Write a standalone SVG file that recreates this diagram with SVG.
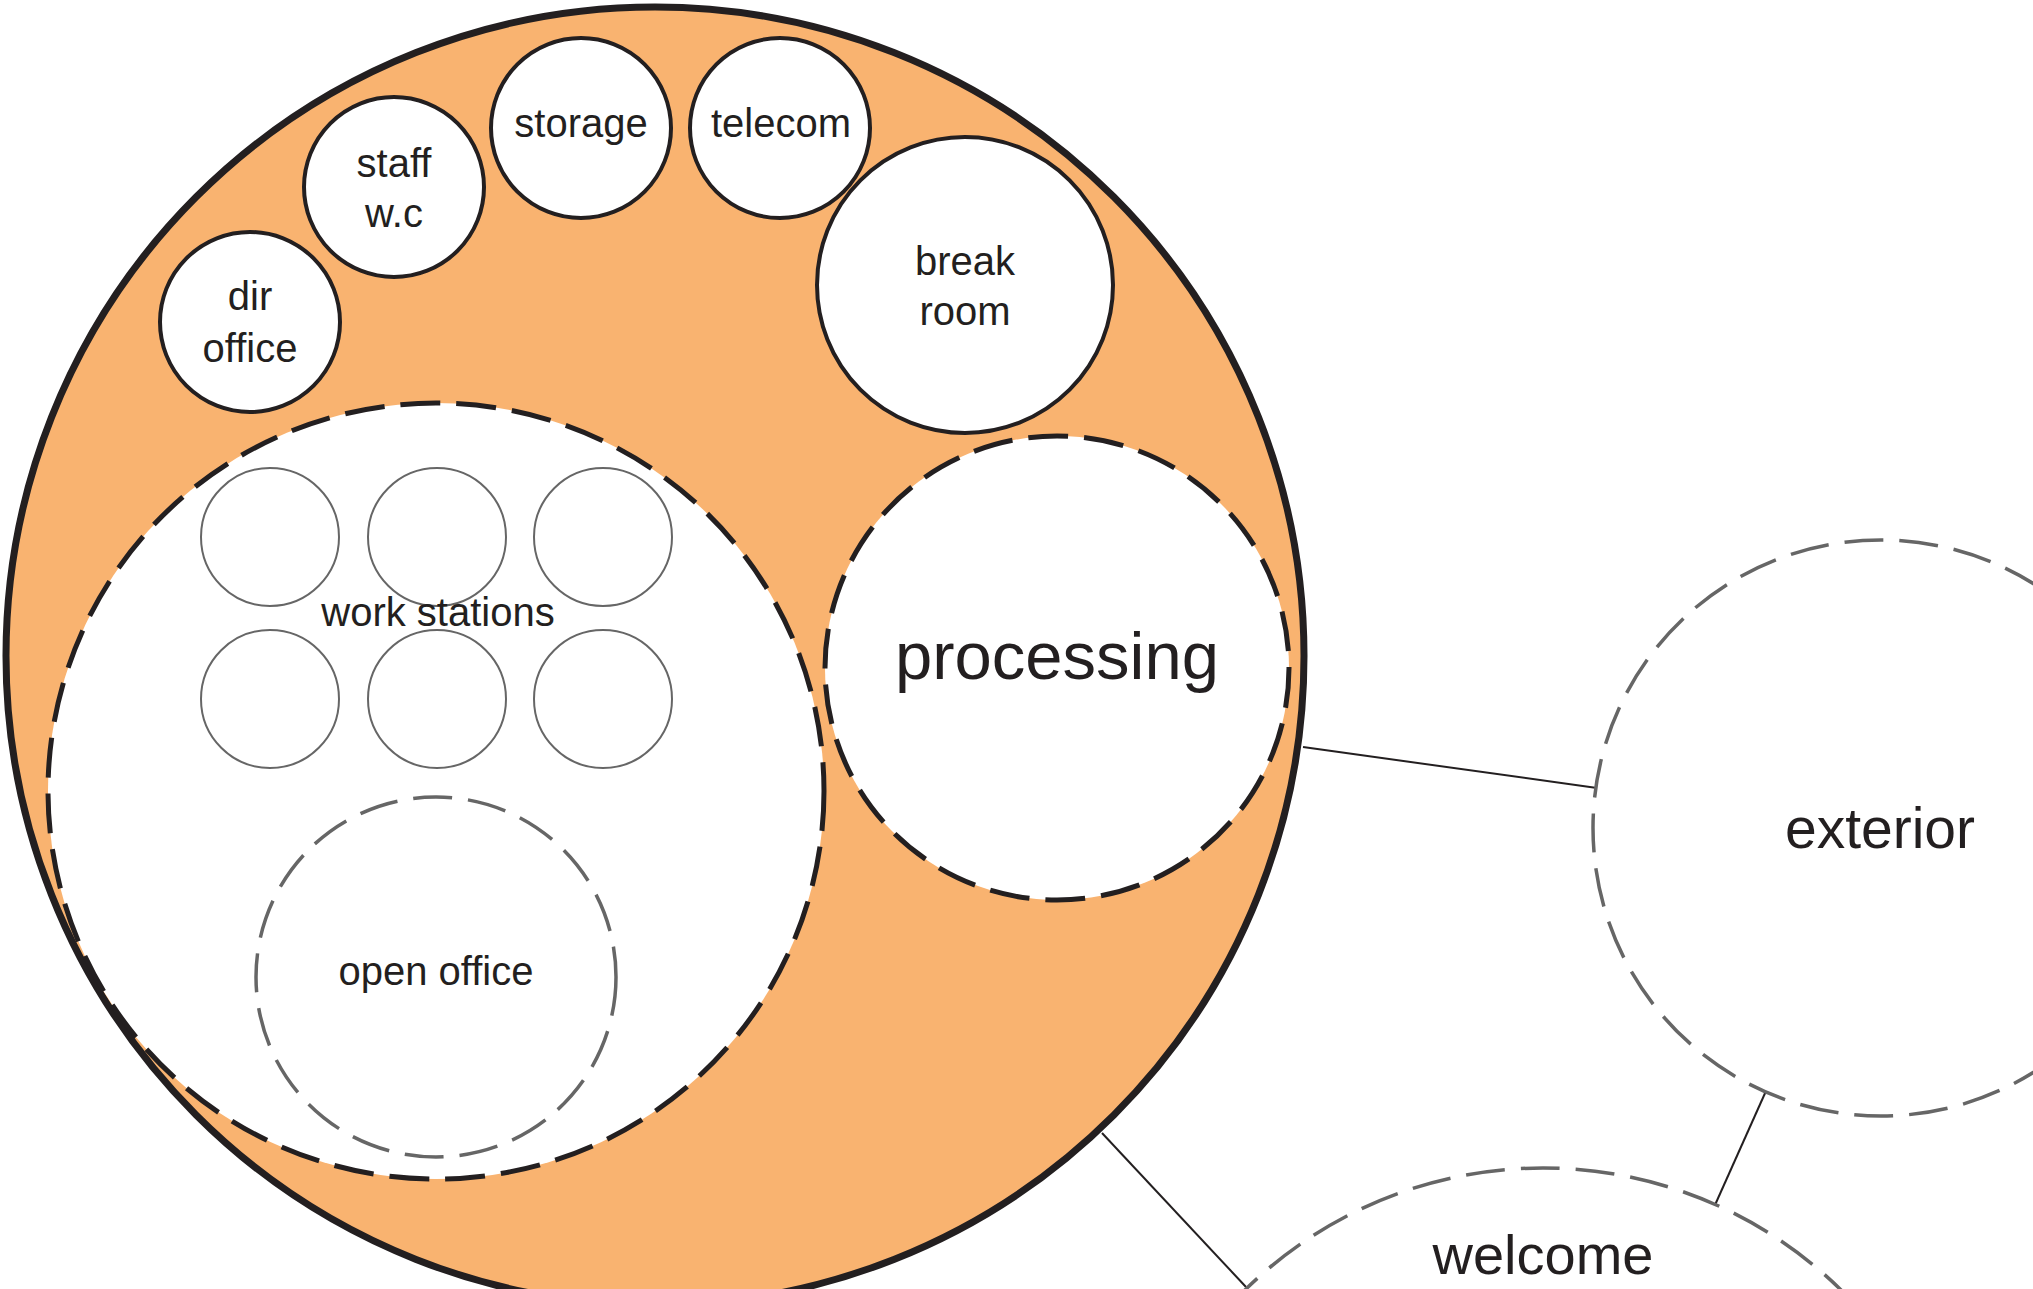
<svg xmlns="http://www.w3.org/2000/svg" width="2033" height="1289" viewBox="0 0 2033 1289">
<style>
.t{font-family:"Liberation Sans",Arial,sans-serif;fill:#231f20;text-anchor:middle}
.s{font-size:40px}
.room{fill:#fff;stroke:#231f20;stroke-width:4}
.zone{fill:#fff;stroke:#231f20;stroke-width:5;stroke-dasharray:40 16}
.ws{fill:none;stroke:#666;stroke-width:2}
.gz{fill:#fff;stroke:#666;stroke-width:3.5;stroke-dasharray:39 16}
.c{stroke:#231f20;stroke-width:2;fill:none}
</style>
<rect width="2033" height="1289" fill="#fff"/>
<g id="connectors">
<line class="c" x1="1303" y1="747" x2="1597" y2="788"/>
<line class="c" x1="1766" y1="1091" x2="1715" y2="1205"/>
<line class="c" x1="1102" y1="1133" x2="1246" y2="1287"/>
</g>
<g id="office">
<circle cx="655" cy="656" r="649" fill="#f9b370" stroke="#231f20" stroke-width="7"/>
</g>
<g id="storage">
<circle class="room" cx="581" cy="128" r="90"/>
<text class="t s" x="581" y="137">storage</text>
</g>
<g id="telecom">
<circle class="room" cx="780" cy="128" r="90"/>
<text class="t s" x="781" y="137">telecom</text>
</g>
<g id="staff-wc">
<circle class="room" cx="394" cy="187" r="90"/>
<text class="t s" x="394" y="177">staff</text>
<text class="t s" x="394" y="227">w.c</text>
</g>
<g id="dir-office">
<circle class="room" cx="250" cy="322" r="90"/>
<text class="t s" x="250" y="310">dir</text>
<text class="t s" x="250" y="362">office</text>
</g>
<g id="break-room">
<circle class="room" cx="965" cy="285" r="148"/>
<text class="t s" x="965" y="275">break</text>
<text class="t s" x="965" y="325">room</text>
</g>
<g id="processing">
<circle class="zone" cx="1057" cy="668" r="232"/>
<text class="t" x="1057" y="679" font-size="67">processing</text>
</g>
<g id="work-stations">
<circle class="zone" cx="436" cy="791" r="388"/>
<circle class="ws" cx="270" cy="537" r="69"/>
<circle class="ws" cx="437" cy="537" r="69"/>
<circle class="ws" cx="603" cy="537" r="69"/>
<circle class="ws" cx="270" cy="699" r="69"/>
<circle class="ws" cx="437" cy="699" r="69"/>
<circle class="ws" cx="603" cy="699" r="69"/>
<text class="t s" x="438" y="626">work stations</text>
</g>
<g id="open-office">
<circle class="gz" cx="436" cy="977" r="180"/>
<text class="t s" x="436" y="985">open office</text>
</g>
<g id="exterior">
<circle class="gz" cx="1881" cy="828" r="288"/>
<text class="t" x="1880" y="848" font-size="57">exterior</text>
</g>
<g id="welcome">
<circle class="gz" cx="1543" cy="1593" r="425"/>
<text class="t" x="1543" y="1274" font-size="56">welcome</text>
</g>
</svg>
